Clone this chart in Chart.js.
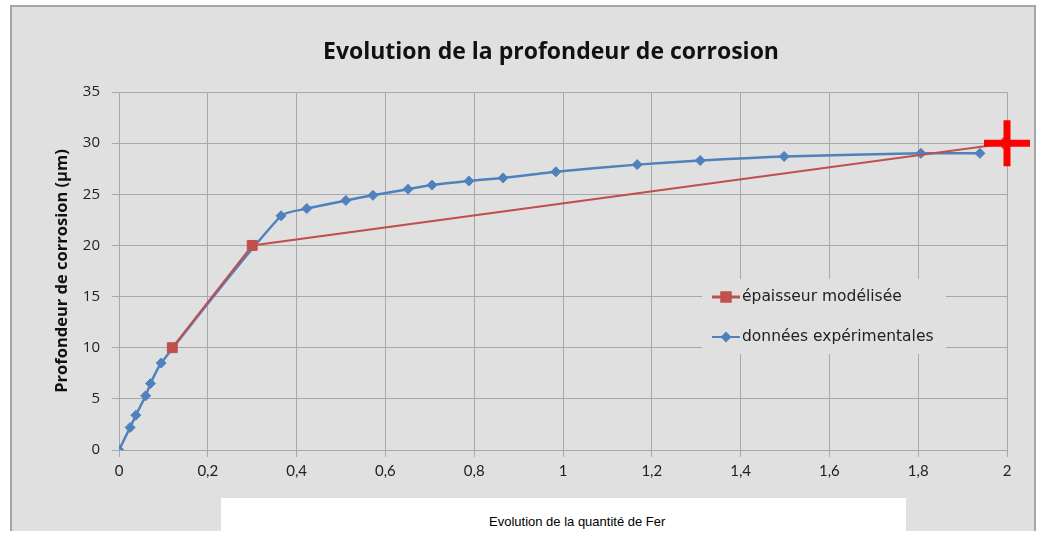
<!DOCTYPE html>
<html lang="fr">
<head>
	<meta charset="UTF-8">
	<title>Evolution de la profondeur de corrosion</title>
	<script src="https://cdn.jsdelivr.net/npm/chart.js"></script>
	<style>
		body {
			margin: 0;
			background-color: #fff;
			width: 1038px;
			height: 533px;
			overflow: hidden;
			position: relative;
		}

		#frame {
			position: absolute;
			left: 10px;
			top: 5px;
			width: 1022px;
			height: 524px;
			background-color: #e0e0e0;
			border: 2px solid #a6a6a6;
			border-bottom: none;
		}

		#chart {
			position: absolute;
			left: 0;
			top: 0;
		}

		#xTitleBox {
			position: absolute;
			left: 221px;
			top: 498px;
			width: 685px;
			height: 35px;
			background-color: #fff;
		}

		#xTitle {
			position: absolute;
			left: 489px;
			top: 514px;
			font-family: "Liberation Sans", sans-serif;
			font-size: 13px;
			color: #000;
			white-space: nowrap;
		}
	</style>
</head>
<body>
<div id="frame"></div>
<canvas id="chart" width="1038" height="533"></canvas>
<div id="xTitleBox"></div>
<div id="xTitle">Evolution de la quantité de Fer</div>

<script>
	// données expérimentales
	const xExp = [0, 0.025, 0.038, 0.060, 0.071, 0.095, 0.365, 0.423, 0.511, 0.572, 0.651, 0.705, 0.788, 0.865, 0.984, 1.167, 1.309, 1.498, 1.806, 1.939];
	const yExp = [0, 2.2, 3.4, 5.3, 6.5, 8.5, 22.9, 23.6, 24.4, 24.9, 25.5, 25.9, 26.3, 26.6, 27.2, 27.9, 28.3, 28.7, 29.0, 29.0];

	// épaisseur modélisée
	const xModel = [0.12, 0.3, 2];
	const yModel = [10, 20, 30];

	// croix rouge ajoutée sur le graphique
	const xCross = [2];
	const yCross = [30];

	const xTickLabels = ['0', '0,2', '0,4', '0,6', '0,8', '1', '1,2', '1,4', '1,6', '1,8', '2'];
	const yTickLabels = ['0', '5', '10', '15', '20', '25', '30', '35'];

	const seriesNames = ['épaisseur modélisée', 'données expérimentales'];
	const RED = '#c0504d';
	const BLUE = '#4f81bd';
	const GRID = '#a8a8a8';

	const toPoints = (xs, ys) => xs.map((x, i) => ({x: x, y: ys[i]}));

	// titre + légende dessinés à la main (la légende est dans la zone du graphe)
	const decor = {
		id: 'decor',
		afterDatasetsDraw(chart) {
			const ctx = chart.ctx;
			ctx.save();

			// légende
			ctx.fillStyle = '#e0e0e0';
			ctx.fillRect(702, 279, 244, 75);
			const items = [
				{color: RED, style: 'rect', y: 297, radius: 6, width: 3},
				{color: BLUE, style: 'rectRot', y: 337, radius: 4, width: 2}
			];
			items.forEach((it, i) => {
				ctx.strokeStyle = it.color;
				ctx.lineWidth = it.width;
				ctx.beginPath();
				ctx.moveTo(712, it.y);
				ctx.lineTo(740, it.y);
				ctx.stroke();
				ctx.fillStyle = it.color;
				Chart.helpers.drawPoint(ctx, {pointStyle: it.style, radius: it.radius, borderWidth: 1}, 726, it.y);
				ctx.fillStyle = '#222';
				ctx.font = '15.5px "DejaVu Sans"';
				ctx.textBaseline = 'middle';
				ctx.textAlign = 'left';
				ctx.fillText(seriesNames[i], 742, it.y);
			});

			// titre
			ctx.fillStyle = '#111';
			ctx.font = 'bold 23px "Open Sans"';
			ctx.textAlign = 'center';
			ctx.textBaseline = 'middle';
			ctx.fillText('Evolution de la profondeur de corrosion', 551, 52);
			ctx.restore();
		}
	};

	new Chart(document.getElementById('chart'), {
		type: 'scatter',
		data: {
			datasets: [{
				label: seriesNames[0],
				data: toPoints(xModel, yModel),
				showLine: true,
				borderColor: RED,
				backgroundColor: RED,
				borderWidth: 2,
				pointStyle: 'rect',
				pointRadius: 7,
				pointBorderWidth: 1,
				order: 1
			}, {
				label: seriesNames[1],
				data: toPoints(xExp, yExp),
				showLine: true,
				tension: 0.2,
				borderColor: BLUE,
				backgroundColor: BLUE,
				borderWidth: 2.5,
				pointStyle: 'rectRot',
				pointRadius: 5,
				pointBorderWidth: 1,
				order: 2
			}, {
				label: 'croix',
				data: toPoints(xCross, yCross),
				showLine: false,
				pointStyle: 'cross',
				pointRadius: 23,
				pointBorderWidth: 7,
				borderColor: '#ff0000',
				backgroundColor: '#ff0000',
				clip: false,
				order: 0
			}]
		},
		options: {
			responsive: false,
			animation: false,
			events: [],
			layout: {
				padding: {left: 0, top: 92, right: 31, bottom: 43}
			},
			plugins: {
				legend: {display: false},
				title: {display: false},
				tooltip: {enabled: false}
			},
			scales: {
				x: {
					type: 'linear',
					min: 0,
					max: 2,
					ticks: {
						stepSize: 0.2,
						padding: 5,
						color: '#222',
						font: {family: 'Lato', size: 15},
						callback: (v, i) => xTickLabels[i]
					},
					grid: {color: GRID, tickColor: GRID, tickLength: 7},
					border: {color: GRID},
					afterFit(scale) { scale.height = 40; }
				},
				y: {
					min: 0,
					max: 35,
					ticks: {
						stepSize: 5,
						padding: 12,
						color: '#222',
						font: {family: 'Open Sans', size: 15},
						callback: (v, i) => yTickLabels[i]
					},
					grid: {color: GRID, tickColor: GRID, tickLength: 7},
					border: {color: GRID},
					title: {
						display: true,
						text: 'Profondeur de corrosion (µm)',
						color: '#111',
						font: {family: 'Open Sans', weight: 'bold', size: 16.5},
						padding: {top: 52, bottom: 0}
					},
					afterFit(scale) { scale.width = 119; }
				}
			}
		},
		plugins: [decor]
	});
</script>
</body>
</html>
